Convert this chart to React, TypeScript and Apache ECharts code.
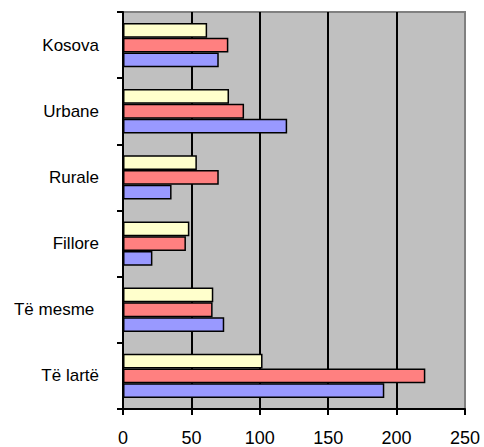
import React, { useEffect, useRef } from "react";
import * as echarts from "echarts";

const categories = ["Të lartë", "Të mesme ", "Fillore", "Rurale", "Urbane", "Kosova"];
const blueValues = [191, 74, 21.5, 35.5, 120, 70];
const redValues = [221, 65.5, 46, 70, 88.5, 77];
const yellowValues = [102, 66, 48.5, 54, 77.5, 61.5];
const xTicks = [0, 50, 100, 150, 200, 250];

export default function App() {
  const ref = useRef<HTMLDivElement>(null);
  useEffect(() => {
    if (!ref.current) return;
    const chart = echarts.init(ref.current, null, { renderer: "svg" });
    const barStyle = (color: string) => ({
      color,
      borderColor: "#000",
      borderWidth: 1.5,
    });
    chart.setOption({
      animation: false,
      textStyle: { fontFamily: "Liberation Sans, Arial, sans-serif" },
      grid: {
        left: 123,
        right: 19,
        top: 12,
        bottom: 37,
        show: true,
        backgroundColor: "#C0C0C0",
        borderColor: "#808080",
        borderWidth: 2,
      },
      xAxis: {
        type: "value",
        min: xTicks[0],
        max: xTicks[xTicks.length - 1],
        interval: 50,
        axisLine: { show: true, lineStyle: { color: "#000", width: 2 } },
        axisTick: { show: true, length: 6, lineStyle: { color: "#000", width: 2 } },
        axisLabel: { color: "#000", fontSize: 18, margin: 20, fontFamily: "Liberation Sans, Arial, sans-serif" },
        splitLine: { show: true, showMinLine: false, showMaxLine: false, lineStyle: { color: "#000", width: 2 } },
      },
      yAxis: {
        type: "category",
        data: categories,
        axisLine: { show: true, lineStyle: { color: "#000", width: 2 } },
        axisTick: { show: true, length: 6, lineStyle: { color: "#000", width: 2 } },
        axisLabel: { color: "#000", fontSize: 17, margin: 24, fontFamily: "Liberation Sans, Arial, sans-serif" },
        splitLine: { show: false },
      },
      series: [
        { type: "bar", data: yellowValues, itemStyle: barStyle("#FFFFCC"), barGap: "0%", barCategoryGap: "33%" },
        { type: "bar", data: redValues, itemStyle: barStyle("#FF8080"), barGap: "0%", barCategoryGap: "33%" },
        { type: "bar", data: blueValues, itemStyle: barStyle("#9999FF"), barGap: "0%", barCategoryGap: "33%" },
      ],
    });
    return () => chart.dispose();
  }, []);
  return <div ref={ref} style={{ width: 484, height: 447, position: "absolute", left: 0, top: 0 }} />;
}
